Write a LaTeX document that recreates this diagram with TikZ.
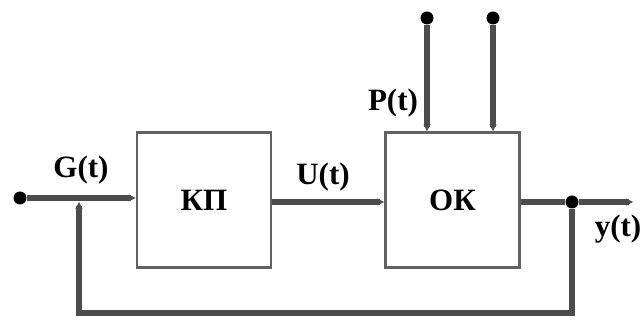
\documentclass[tikz,border=0pt]{standalone}
\usepackage{fontspec}
\setmainfont{Liberation Serif}
\usetikzlibrary{arrows.meta,positioning,calc}

\begin{document}
\begin{tikzpicture}[
        x=0.5pt, y=0.5pt,
        font=\fontsize{15.5}{17}\selectfont\bfseries,
        block/.style={draw=black!62, line width=1.3pt, minimum width=67pt, minimum height=67.5pt, inner sep=0pt, align=center},
        dot/.style={circle, fill=black, minimum size=6.5pt, inner sep=0pt},
        line/.style={-{Stealth[open, length=3.5pt, width=3.5pt, line width=0.6pt]}, draw=black!70, line width=2.6pt},
        wire/.style={draw=black!70, line width=2.6pt},
        lbl/.style={inner sep=0pt},
    ]
        \useasboundingbox (0,0) rectangle (641,320);

        % --- blocks ---
        \node[block] (kp) at (204,120) {КП};
        \node[block] (ok) at (452.5,120) {ОК};

        % --- input, output and branch points ---
        \node[dot] (in) at (20,122) {};
        \coordinate (fbin) at (79,122);
        \node[dot] (br) at (572,118) {};
        \coordinate (yend) at (633,118);
        \coordinate (fbdown) at (572,7);

        % disturbance inputs
        \node[dot] (p1) at (427,302) {};
        \node[dot] (p2) at (493,302) {};

        % --- wiring ---
        \draw[line] (in) -- (kp.west |- in);
        \draw[line] (kp.east |- 0,118) -- (ok.west |- 0,118);
        \draw[wire] (ok.east |- br) -- (br);
        \draw[line] (br) -- (yend);
        \draw[line] (p1) -- (p1 |- ok.north);
        \draw[line] (p2) -- (p2 |- ok.north);

        % feedback loop back to the input
        \draw[line, shorten >=2pt] (br) -- (fbdown) -| (fbin);

        % --- signal labels ---
        \node[lbl] (g) at (81,150) {G(t)};
        \node[lbl] (u) at (323,143) {U(t)};
        \node[lbl] (p) at (393,217) {P(t)};
        \node[lbl] (y) at (618,91) {y(t)};
\end{tikzpicture}
\end{document}
